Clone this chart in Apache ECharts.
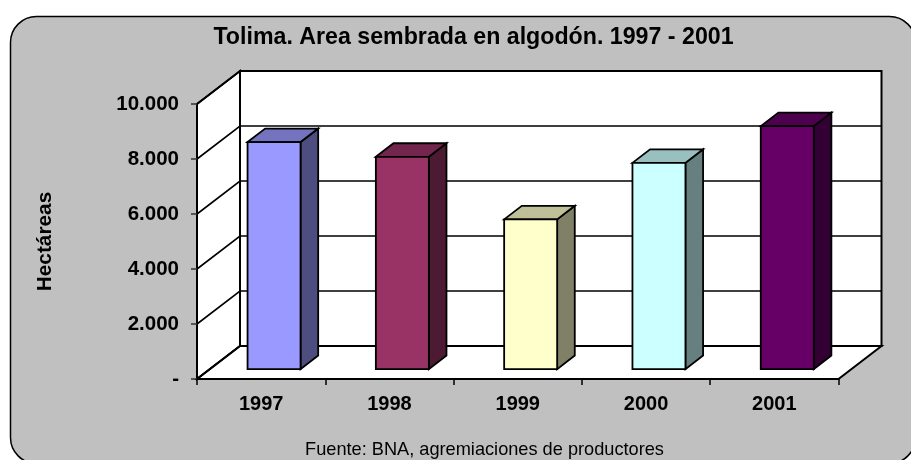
<!DOCTYPE html>
<html>
<head>
<meta charset="utf-8">
<style>html,body{margin:0;padding:0;background:#fff}#c{width:911px;height:460px}</style>
<script src="https://cdn.jsdelivr.net/npm/echarts@6/dist/echarts.min.js"></script>
</head>
<body>
<div id="c"></div>
<script>
const categories = ['1997', '1998', '1999', '2000', '2001'];
const hectares = [8255, 7720, 5445, 7500, 8835];
const yTicks = [0, 2000, 4000, 6000, 8000, 10000];
const yTickLabels = ['-', '2.000', '4.000', '6.000', '8.000', '10.000'];
const frontColors = ['#9999FF', '#993366', '#FFFFCC', '#CCFFFF', '#660066'];
const sideColors = ['#4D4D80', '#4D1A33', '#808066', '#668080', '#330033'];
const topColors = ['#7373BF', '#73264D', '#BFBF99', '#99BFBF', '#4D004D'];

const titleText = 'Tolima. Area sembrada en algodón. 1997 - 2001';
const yAxisName = 'Hectáreas';
const sourceText = 'Fuente: BNA, agremiaciones de productores';

const DX = 43, DY = -33;          // depth of the 3D box
const BAR_START = 0.3, BAR_DEPTH = 0.41, BAR_RATIO = 0.413;
const FONT = '"Liberation Sans", Arial, sans-serif';

function poly(points, fill, lw) {
  return { type: 'polygon', shape: { points },
    style: { fill, stroke: '#000', lineWidth: lw || 1.8, lineJoin: 'miter' } };
}

function renderWalls(params) {
  const c = params.coordSys;
  const l = c.x, r = c.x + c.width, t = c.y, b = c.y + c.height;
  return { type: 'group', children: [
    poly([[l + DX, t + DY], [r + DX, t + DY], [r + DX, b + DY], [l + DX, b + DY]], '#fff', 2),
    poly([[l, t], [l + DX, t + DY], [l + DX, b + DY], [l, b]], '#fff', 2),
    poly([[l, b], [l + DX, b + DY], [r + DX, b + DY], [r, b]], '#fff', 2)
  ] };
}

function renderGridLine(params, api) {
  const c = params.coordSys;
  const y = api.coord([0, api.value(0)])[1];
  const l = c.x, r = c.x + c.width;
  return { type: 'polyline',
    shape: { points: [[l, y], [l + DX, y + DY], [r + DX, y + DY]] },
    style: { fill: null, stroke: '#000', lineWidth: 1.6 } };
}

function renderBar(params, api) {
  const i = api.value(0);
  const band = api.size([1, 0])[0];
  const base = api.coord([i, 0]);
  const top = api.coord([i, api.value(1)]);
  const w = band * BAR_RATIO;
  const x0 = base[0] - w / 2 + DX * BAR_START, x1 = x0 + w;
  const yb = base[1] + DY * BAR_START;
  const yt = top[1] + DY * BAR_START;
  const ox = DX * BAR_DEPTH, oy = DY * BAR_DEPTH;
  return { type: 'group', children: [
    poly([[x1, yt], [x1 + ox, yt + oy], [x1 + ox, yb + oy], [x1, yb]], sideColors[i]),
    poly([[x0, yt], [x0 + ox, yt + oy], [x1 + ox, yt + oy], [x1, yt]], topColors[i]),
    poly([[x0, yt], [x1, yt], [x1, yb], [x0, yb]], frontColors[i])
  ] };
}

const chart = echarts.init(document.getElementById('c'), null, { renderer: 'canvas' });
chart.setOption({
  animation: false,
  backgroundColor: '#fff',
  title: {
    text: titleText, left: 468.5, top: 21, textAlign: 'center',
    textStyle: { fontFamily: FONT, fontSize: 23.2, fontWeight: 'bold', color: '#000' }
  },
  graphic: [
    { type: 'rect', z: -10, silent: true,
      shape: { x: 10.5, y: 16.5, width: 905, height: 447, r: 26 },
      style: { fill: '#C0C0C0', stroke: '#000', lineWidth: 1.5 } },
    { type: 'text', z: 10, silent: true, x: 484.5, y: 449.5,
      style: { text: sourceText, fill: '#000', font: '18.2px ' + FONT,
        textAlign: 'center', textVerticalAlign: 'middle' } }
  ],
  grid: { left: 197, top: 104, width: 641.5, height: 275, containLabel: false },
  xAxis: {
    type: 'category', data: categories, z: 4,
    axisLine: { lineStyle: { color: '#000', width: 2 } },
    axisTick: { show: true, length: 6, lineStyle: { color: '#000', width: 1.5 } },
    axisLabel: { margin: 15, fontFamily: FONT, fontSize: 20, fontWeight: 'bold', color: '#000', interval: 0 },
    splitLine: { show: false }
  },
  yAxis: {
    type: 'value', min: 0, max: 10000, interval: 2000, z: 4,
    name: yAxisName, nameLocation: 'middle', nameGap: 141,
    nameTextStyle: { fontFamily: FONT, fontSize: 20.8, fontWeight: 'bold', color: '#000' },
    axisLine: { show: true, lineStyle: { color: '#000', width: 2 } },
    axisTick: { show: true, length: 6, lineStyle: { color: '#333', width: 1.5 } },
    axisLabel: { margin: 18, fontFamily: FONT, fontSize: 20.5, fontWeight: 'bold', color: '#000',
      formatter: v => yTickLabels[yTicks.indexOf(v)] },
    splitLine: { show: false }
  },
  series: [
    { type: 'custom', name: 'walls', z: 1, clip: false, silent: true,
      renderItem: renderWalls, data: [[0]] },
    { type: 'custom', name: 'gridlines', z: 2, clip: false, silent: true,
      renderItem: renderGridLine, data: yTicks.map(v => [v]), encode: { y: 0 } },
    { type: 'custom', name: 'Área sembrada', z: 5, clip: false,
      renderItem: renderBar, encode: { x: 0, y: 1 },
      data: hectares.map((v, i) => [i, v]) }
  ]
});
</script>
</body>
</html>
